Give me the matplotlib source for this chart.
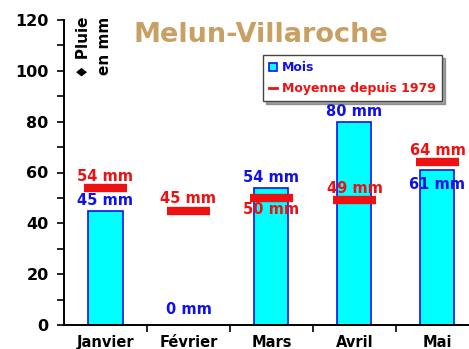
import numpy as np
import matplotlib.pyplot as plt
from matplotlib.lines import Line2D
from matplotlib.patches import Patch

plt.rcParams['font.family'] = ['DejaVu Sans']
plt.rcParams['font.weight'] = 'bold'

months = ['Janvier', 'Février', 'Mars', 'Avril', 'Mai']
rain = [45, 0, 54, 80, 61]          # pluie du mois (mm)
normal = [54, 45, 50, 49, 64]       # moyenne depuis 1979 (mm)

# where each label sits relative to its mark: +1 above, -1 below
rain_side = [1, 1, 1, 1, -1]
normal_side = [1, 1, -1, 1, 1]

BLUE = '#1010ee'
RED = '#ee1111'
CYAN = '#00ffff'

fig = plt.figure(figsize=(4.69, 3.49), dpi=100)
ax = fig.add_axes([64 / 469, 24 / 349, 405 / 469, 305 / 349])

x = np.arange(len(months))
ax.bar(x, rain, width=0.41, color=CYAN, edgecolor=BLUE, linewidth=1.2, zorder=2)
ax.hlines(normal, x - 0.26, x + 0.26, colors=RED, linewidth=6, zorder=3)

for i in range(len(months)):
    if rain[i] == 0:
        ax.text(x[i], 3, f'{rain[i]} mm', color=BLUE, fontsize=10.5,
                ha='center', va='bottom', zorder=5)
    elif rain_side[i] > 0:
        ax.annotate(f'{rain[i]} mm', (x[i], rain[i]), xytext=(0, 2),
                    textcoords='offset points', color=BLUE, fontsize=10.5,
                    ha='center', va='bottom', zorder=5)
    else:
        ax.annotate(f'{rain[i]} mm', (x[i], rain[i]), xytext=(0, -5),
                    textcoords='offset points', color=BLUE, fontsize=10.5,
                    ha='center', va='top', zorder=5)

    if normal_side[i] > 0:
        ax.annotate(f'{normal[i]} mm', (x[i], normal[i]), xytext=(0, 3),
                    textcoords='offset points', color=RED, fontsize=10.5,
                    ha='center', va='bottom', zorder=5)
    else:
        ax.annotate(f'{normal[i]} mm', (x[i], normal[i]), xytext=(0, -3),
                    textcoords='offset points', color=RED, fontsize=10.5,
                    ha='center', va='top', zorder=5)

ax.set_xlim(-0.5, 4.38)
ax.set_ylim(0, 120)
ax.set_yticks(np.arange(0, 121, 20))
ax.set_yticks(np.arange(10, 120, 20), minor=True)
ax.set_xticks(x)
ax.set_xticklabels(months, fontsize=10.5)
ax.set_xticks(np.arange(0.5, 4, 1), minor=True)
ax.tick_params(axis='x', which='major', length=0, pad=7)
ax.tick_params(axis='x', which='minor', length=5, width=1.2)
ax.tick_params(axis='y', which='major', length=5, width=1.2, labelsize=11.5, pad=6)
ax.tick_params(axis='y', which='minor', length=5, width=1.2)
for lab in ax.get_yticklabels() + ax.get_xticklabels():
    lab.set_fontweight('bold')

for side in ['top', 'right']:
    ax.spines[side].set_visible(False)
for side in ['left', 'bottom']:
    ax.spines[side].set_linewidth(1.4)

fig.text(133 / 469, 1 - 35 / 349, 'Melun-Villaroche', color='#c8a064',
         fontsize=19.5, fontweight='bold', ha='left', va='center')
fig.text(83 / 469, 1 - 17 / 349, '\u2666 Pluie', rotation=90, fontsize=11,
         ha='center', va='top')
fig.text(104 / 469, 1 - 17 / 349, 'en mm', rotation=90, fontsize=11,
         ha='center', va='top')

handles = [
    Patch(facecolor=CYAN, edgecolor=BLUE, linewidth=1.2, label='Mois'),
    Line2D([0], [0], color=RED, linewidth=2, label='Moyenne depuis 1979'),
]
leg = ax.legend(handles=handles, loc='upper left',
                bbox_to_anchor=(263 / 469, 1 - 55 / 349),
                bbox_transform=fig.transFigure, fontsize=9, borderaxespad=0,
                frameon=True, fancybox=False, shadow=True,
                handlelength=0.6, handleheight=0.6, handletextpad=0.4,
                borderpad=0.5, labelspacing=0.6, edgecolor='#444444')
leg.get_frame().set_linewidth(1.0)
for t, c in zip(leg.get_texts(), [BLUE, RED]):
    t.set_color(c)
    t.set_fontweight('bold')

fig.savefig('out.png', dpi=100)
